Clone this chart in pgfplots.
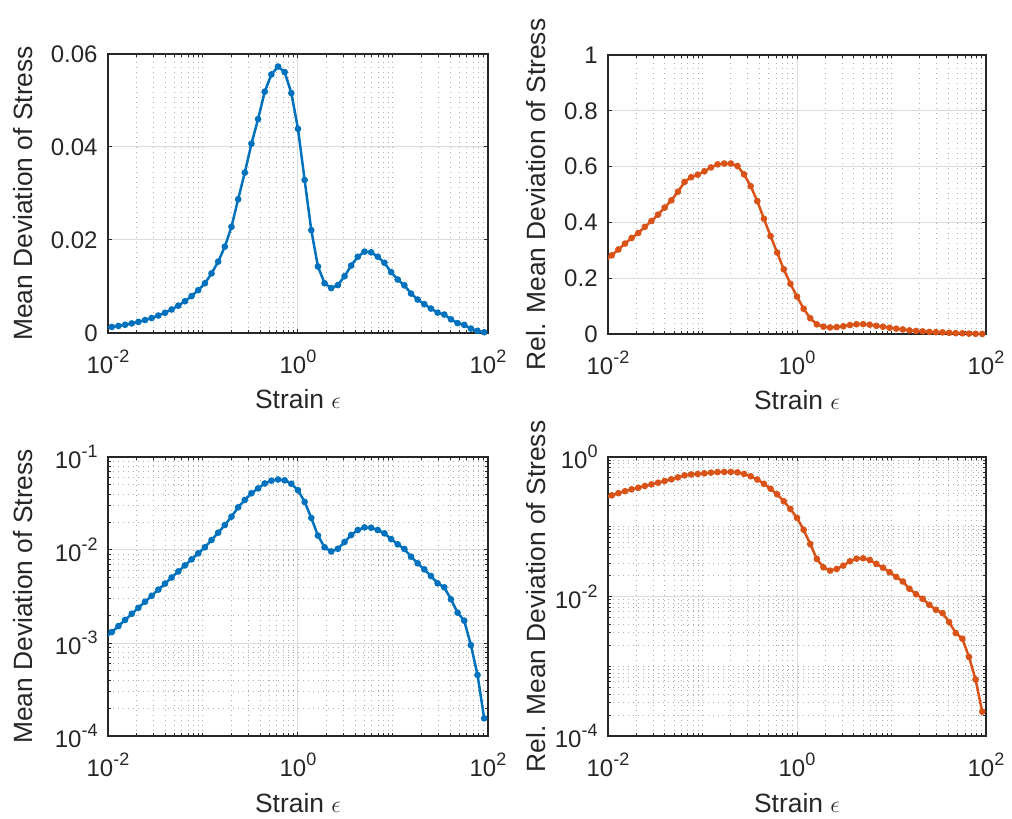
\documentclass[border=0pt]{standalone}
\usepackage{fontspec}
\setmainfont{Liberation Sans}
\usepackage{pgfplots}
\usepackage{pgfplotstable}
\pgfplotsset{compat=1.18}

\definecolor{mblue}{rgb}{0,0.447,0.741}
\definecolor{morange}{rgb}{0.85,0.325,0.098}
\definecolor{axgray}{rgb}{0.15,0.15,0.15}

\newcommand\ticksize{\fontsize{12pt}{14pt}\selectfont}
\newcommand\labsize{\fontsize{13.2pt}{15pt}\selectfont}
\newcommand\tenpow[1]{10\raisebox{5.5pt}{\fontsize{9pt}{9pt}\selectfont #1}}

% strain, mean deviation of stress, relative mean deviation of stress
\pgfplotstableread{
x          a          r
0.009333   0.00113    0.262
0.010965   0.00131    0.282
0.012882   0.00152    0.303
0.015136   0.00177    0.324
0.017783   0.00206    0.344
0.020893   0.00239    0.362
0.024547   0.00278    0.384
0.028840   0.00322    0.405
0.033884   0.00375    0.428
0.039811   0.00435    0.453
0.046774   0.00506    0.479
0.054954   0.00588    0.510
0.064565   0.00683    0.545
0.075858   0.00793    0.562
0.089125   0.00921    0.571
0.104713   0.01069    0.583
0.123027   0.01282    0.597
0.144544   0.01535    0.608
0.169824   0.01857    0.611
0.199526   0.02283    0.611
0.234423   0.02876    0.602
0.275423   0.0345     0.572
0.323594   0.0407     0.530
0.380189   0.0460     0.476
0.446684   0.0519     0.413
0.524807   0.0556     0.351
0.616595   0.0573     0.292
0.724436   0.0561     0.232
0.851138   0.0516     0.180
1.000000   0.0439     0.134
1.174898   0.0329     0.0906
1.380384   0.0221     0.0566
1.621810   0.0143     0.0345
1.905461   0.0107     0.0262
2.238721   0.00965    0.0235
2.630268   0.0103     0.0248
3.090295   0.0122     0.0277
3.630781   0.0145     0.0320
4.265795   0.0164     0.0349
5.011872   0.01750    0.0353
5.888437   0.01735    0.0334
6.918310   0.0164     0.0293
8.128305   0.0151     0.0259
9.549926   0.0131     0.0223
11.220185  0.0115     0.0191
13.182567  0.01025    0.0164
15.488166  0.00848    0.0129
18.197009  0.00719    0.0108
21.379621  0.00619    0.00927
25.118864  0.00525    0.00761
29.512092  0.00438    0.00645
34.673685  0.00397    0.00578
40.738028  0.00295    0.00430
47.863009  0.00212    0.00299
56.234133  0.00174    0.00248
66.069345  0.00095    0.00136
77.624712  0.000453   0.000645
91.201084  0.000155   0.000223
}\strain

\pgfplotsset{
  strainpanel/.style={
    scale only axis,
    height=139.5pt,
    xmin=0.01, xmax=100,
    xtick={0.01,1,100},
    xticklabels={\tenpow{-2},\tenpow{0},\tenpow{2}},
    minor xtick={0.02,0.03,0.04,0.05,0.06,0.07,0.08,0.09,0.1,0.2,0.3,0.4,0.5,0.6,0.7,0.8,0.9,2,3,4,5,6,7,8,9,10,20,30,40,50,60,70,80,90},
    scaled y ticks=false,
    xmajorgrids, xminorgrids, ymajorgrids,
    major grid style={draw=black!14, line width=0.5pt},
    minor grid style={draw=black!32, line width=0.5pt, dash pattern=on 0.5pt off 2pt},
    axis line style={draw=axgray, line width=0.9pt},
    tick style={draw=axgray, line width=0.5pt},
    tick align=inside,
    major tick length=2.2pt, minor tick length=1.4pt,
    ticklabel style={font=\ticksize, text=axgray},
    xticklabel style={anchor=north, inner sep=0pt, yshift=-8.5pt},
    yticklabel style={anchor=east, inner sep=0pt, xshift=-5pt},
    xlabel={Strain $\epsilon$},
    every axis x label/.style={at={([yshift=-38pt]axis description cs:0.5,0)}, anchor=base, font=\labsize, text=axgray},
  },
  leftlabel/.style={every axis y label/.style={at={([xshift=-37.5pt]axis description cs:0,0.5)}, rotate=90, anchor=base, font=\labsize, text=axgray}},
  rightlabel/.style={every axis y label/.style={at={([xshift=-31.5pt]axis description cs:0,0.5)}, rotate=90, anchor=base, font=\labsize, text=axgray}},
  bluecurve/.style={mblue, line width=1.25pt, mark=*, mark size=1pt, mark options={solid, fill=mblue}},
  orangecurve/.style={morange, line width=1.25pt, mark=*, mark size=1pt, mark options={solid, fill=morange}},
}

\begin{document}
\begin{tikzpicture}
\useasboundingbox (0,0) rectangle (506pt,409.5pt);

% top left: mean deviation, linear scale
\begin{axis}[xmode=log, strainpanel, leftlabel,
  width=190pt, at={(54pt,243pt)}, anchor=south west,
  ymin=0, ymax=0.06, ytick={0,0.02,0.04,0.06},
  yticklabels={0,0.02,0.04,0.06},
  ylabel={Mean Deviation of Stress}]
\addplot[bluecurve] table[x=x, y=a] {\strain};
\end{axis}

% top right: relative mean deviation, linear scale
\begin{axis}[xmode=log, strainpanel, rightlabel,
  width=189pt, at={(304pt,242.5pt)}, anchor=south west,
  ymin=0, ymax=1, ytick={0,0.2,0.4,0.6,0.8,1},
  yticklabels={0,0.2,0.4,0.6,0.8,1},
  ylabel={Rel. Mean Deviation of Stress}]
\addplot[orangecurve] table[x=x, y=r] {\strain};
\end{axis}

% bottom left: mean deviation, logarithmic scale
\begin{axis}[xmode=log, ymode=log, strainpanel, leftlabel,
  width=190pt, at={(54pt,41.5pt)}, anchor=south west,
  ymin=1e-4, ymax=1e-1, ytick={1e-4,1e-3,1e-2,1e-1},
  yticklabels={\tenpow{-4},\tenpow{-3},\tenpow{-2},\tenpow{-1}},
  minor ytick={2e-4,3e-4,4e-4,5e-4,6e-4,7e-4,8e-4,9e-4,2e-3,3e-3,4e-3,5e-3,6e-3,7e-3,8e-3,9e-3,2e-2,3e-2,4e-2,5e-2,6e-2,7e-2,8e-2,9e-2},
  yminorgrids,
  ylabel={Mean Deviation of Stress}]
\addplot[bluecurve] table[x=x, y=a] {\strain};
\end{axis}

% bottom right: relative mean deviation, logarithmic scale
\begin{axis}[xmode=log, ymode=log, strainpanel, rightlabel,
  width=189pt, at={(304pt,41.5pt)}, anchor=south west,
  ymin=1e-4, ymax=1, ytick={1e-4,1e-2,1},
  yticklabels={\tenpow{-4},\tenpow{-2},\tenpow{0}},
  minor ytick={2e-4,3e-4,4e-4,5e-4,6e-4,7e-4,8e-4,9e-4,1e-3,2e-3,3e-3,4e-3,5e-3,6e-3,7e-3,8e-3,9e-3,2e-2,3e-2,4e-2,5e-2,6e-2,7e-2,8e-2,9e-2,0.1,0.2,0.3,0.4,0.5,0.6,0.7,0.8,0.9},
  yminorgrids,
  ylabel={Rel. Mean Deviation of Stress}]
\addplot[orangecurve] table[x=x, y=r] {\strain};
\end{axis}
\end{tikzpicture}
\end{document}
